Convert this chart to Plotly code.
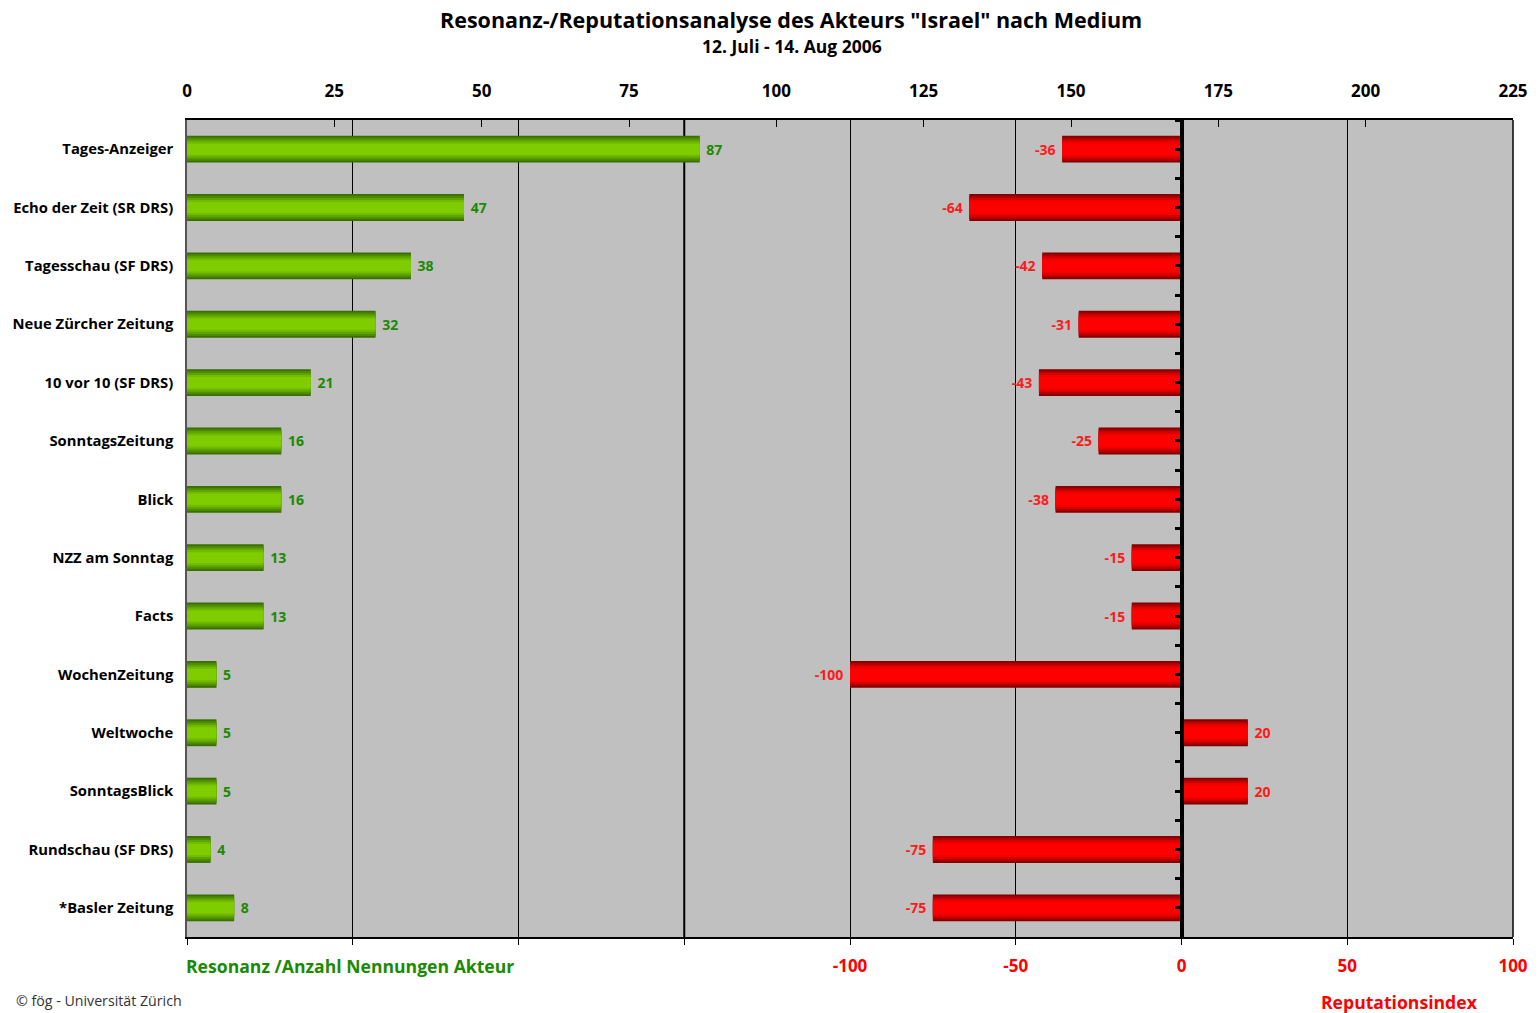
import plotly.graph_objects as go

categories = ["Tages-Anzeiger", "Echo der Zeit (SR DRS)", "Tagesschau (SF DRS)",
              "Neue Zürcher Zeitung", "10 vor 10 (SF DRS)", "SonntagsZeitung", "Blick",
              "NZZ am Sonntag", "Facts", "WochenZeitung", "Weltwoche", "SonntagsBlick",
              "Rundschau (SF DRS)", "*Basler Zeitung"]
resonanz = [87, 47, 38, 32, 21, 16, 16, 13, 13, 5, 5, 5, 4, 8]
reputation = [-36, -64, -42, -31, -43, -25, -38, -15, -15, -100, 20, 20, -75, -75]

top_ticks = [0, 25, 50, 75, 100, 125, 150, 175, 200, 225]
bottom_ticks = [-300, -250, -200, -150, -100, -50, 0, 50, 100]
bottom_ticktext = ["", "", "", "", "-100", "-50", "0", "50", "100"]

FONT = "Open Sans"
GREEN_TXT = "#1a8a00"
RED_TXT = "#ff1a1a"

green_layers = ["#3a6e00", "#4c8a00", "#5fa400", "#71bb00", "#7fcc00"]
red_layers = ["#820000", "#ad0000", "#d60000", "#f20000", "#ff0000"]
widths = [0.46, 0.40, 0.33, 0.26, 0.19]
red_axes = ["y", "y", "y", "y2", "y3"]

green_text = [f" {v}" for v in resonanz]
red_text = [f"{v} " if v < 0 else f" {v}" for v in reputation]

fig = go.Figure()
for i, (c, w) in enumerate(zip(green_layers, widths)):
    fig.add_trace(go.Bar(
        y=categories, x=resonanz, orientation="h", xaxis="x2", yaxis="y",
        width=w, marker=dict(color=c, line=dict(width=0)),
        text=green_text if i == 0 else None,
        textposition="outside" if i == 0 else "none",
        textfont=dict(color=GREEN_TXT, size=14, family=FONT, weight="bold"),
        cliponaxis=False, showlegend=False, hoverinfo="skip" if i else "x+y"))
for i, (c, w, ya) in enumerate(zip(red_layers, widths, red_axes)):
    fig.add_trace(go.Bar(
        y=categories, x=reputation, orientation="h", xaxis="x", yaxis=ya,
        width=w, marker=dict(color=c, line=dict(width=0)),
        text=red_text if i == 0 else None,
        textposition="outside" if i == 0 else "none",
        textfont=dict(color=RED_TXT, size=14, family=FONT, weight="bold"),
        cliponaxis=False, showlegend=False, hoverinfo="skip" if i else "x+y"))

L, R, T, B = 185, 23, 120, 76
W, H = 1540, 1013

def px(x):
    return (x - 185) / 1332

def py(y):
    return (937 - y) / 817

zero_axis = dict(type="category", categoryorder="array", categoryarray=categories,
                 range=[13.5, -0.5], overlaying="y", anchor="free", position=0.75,
                 side="left", showgrid=False, zeroline=False, showticklabels=False,
                 showline=True, linecolor="black", linewidth=3.5, fixedrange=True,
                 ticks="outside", ticklen=5, tickwidth=3, tickcolor="black")

fig.update_layout(
    width=W, height=H,
    margin=dict(l=L, r=R, t=T, b=B),
    paper_bgcolor="white", plot_bgcolor="#c0c0c0",
    barmode="overlay", bargap=0.5,
    font=dict(family=FONT, color="black"),
    xaxis=dict(range=[-300, 100], tickvals=bottom_ticks, ticktext=bottom_ticktext,
               showgrid=True, gridcolor="black", gridwidth=1, zeroline=False,
               showline=True, linecolor="black", linewidth=1.5, mirror=False,
               ticks="outside", ticklen=6, tickcolor="black", ticklabelstandoff=7,
               tickfont=dict(size=17, color="#ff0000", family=FONT, weight="bold"),
               fixedrange=True),
    xaxis2=dict(range=[0, 225], tickvals=top_ticks, overlaying="x", side="top",
                showgrid=False, zeroline=False, showline=True, linecolor="black", linewidth=1.5,
                ticks="inside", ticklen=7, tickcolor="black", ticklabelstandoff=14,
                tickfont=dict(size=17, color="black", family=FONT, weight="bold"),
                fixedrange=True),
    yaxis=dict(type="category", categoryorder="array", categoryarray=categories,
               range=[13.5, -0.5], showgrid=False, zeroline=False,
               showline=True, linecolor="#555555", linewidth=1.5,
               ticks="", ticklabelstandoff=9, fixedrange=True,
               tickfont=dict(size=14.8, color="black", family=FONT, weight="bold")),
    yaxis2=dict(zero_axis, tickson="boundaries"),
    yaxis3=dict(zero_axis, tickson="labels"),
    shapes=[dict(type="line", xref="paper", yref="paper", x0=1, x1=1, y0=0, y1=1,
                 line=dict(color="black", width=1.5)),
            dict(type="line", xref="x", yref="paper", x0=bottom_ticks[3], x1=bottom_ticks[3],
                 y0=0, y1=1, layer="below", line=dict(color="black", width=2))],
    annotations=[
        dict(text="<b>Resonanz-/Reputationsanalyse des Akteurs \"Israel\" nach Medium</b>",
             x=px(792), y=py(19), xref="paper", yref="paper",
             xanchor="center", yanchor="middle", showarrow=False,
             font=dict(size=21.5, family=FONT, color="black")),
        dict(text="<b>12. Juli - 14. Aug 2006</b>",
             x=px(793), y=py(46), xref="paper", yref="paper",
             xanchor="center", yanchor="middle", showarrow=False,
             font=dict(size=17.5, family=FONT, color="black")),
        dict(text="<b>Resonanz /Anzahl Nennungen Akteur</b>",
             x=px(182), y=py(966), xref="paper", yref="paper",
             xanchor="left", yanchor="middle", showarrow=False,
             font=dict(size=17.6, family=FONT, color=GREEN_TXT)),
        dict(text="<b>Reputationsindex</b>",
             x=px(1403), y=py(1002), xref="paper", yref="paper",
             xanchor="center", yanchor="middle", showarrow=False,
             font=dict(size=17.6, family=FONT, color="#ff0000")),
        dict(text="© fög - Universität Zürich",
             x=px(11), y=py(1000), xref="paper", yref="paper",
             xanchor="left", yanchor="middle", showarrow=False,
             font=dict(size=14.2, family=FONT, color="#333333")),
    ],
)

fig.write_html("out.html", config={"displayModeBar": False})
with open("out.html", encoding="utf-8") as f:
    html = f.read()
html = html.replace("<head>", "<head><style>html,body{margin:0;padding:0;overflow:hidden;}</style>", 1)
with open("out.html", "w", encoding="utf-8") as f:
    f.write(html)
